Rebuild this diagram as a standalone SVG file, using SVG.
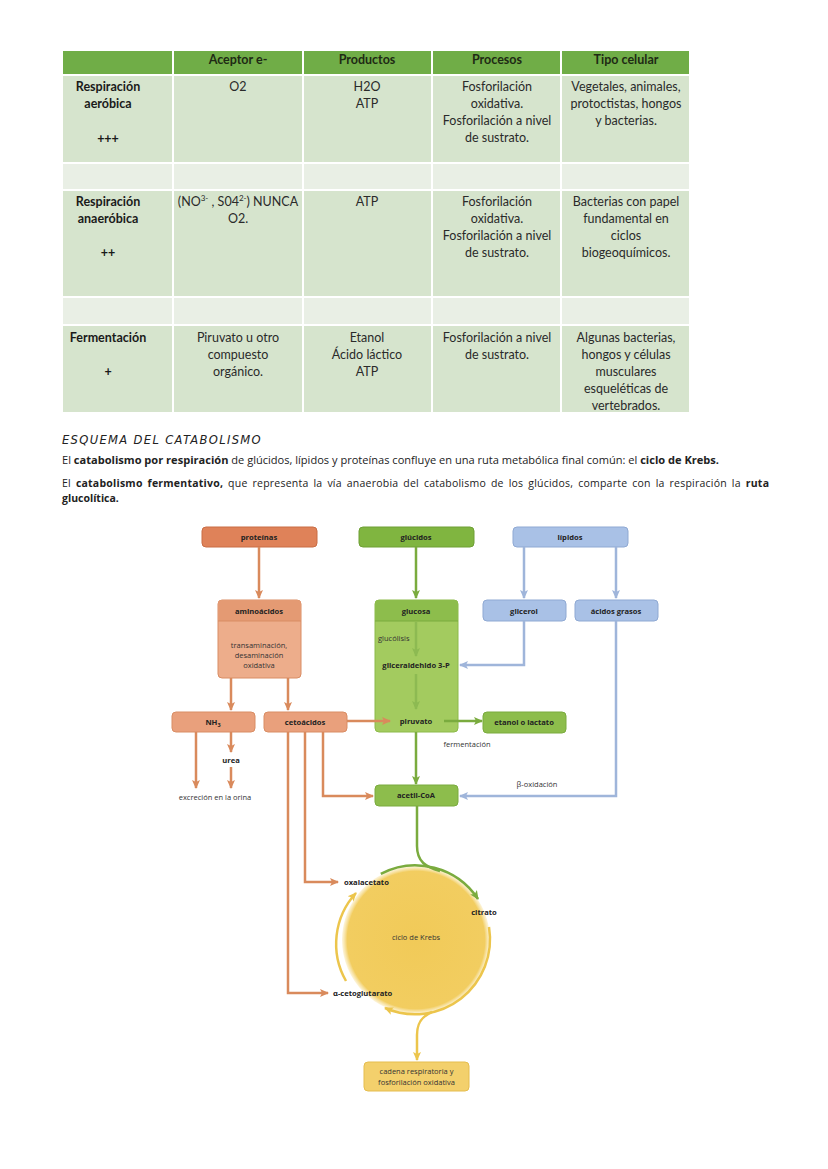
<svg xmlns="http://www.w3.org/2000/svg" width="828" height="1169" viewBox="0 0 828 1169">
<style>
.th{font-family:Lato,"Open Sans",sans-serif;font-size:12.5px;font-weight:bold;fill:#1e2a14;text-anchor:middle}
.tc{font-family:Lato,"Open Sans",sans-serif;font-size:12.5px;fill:#2a2a2a;text-anchor:middle}
.tb{font-family:Lato,"Open Sans",sans-serif;font-size:12.5px;font-weight:bold;fill:#1a1a1a;text-anchor:middle}
.p{font-family:"Open Sans",sans-serif;font-size:10.5px;fill:#222}
.b{font-weight:bold}
.nl{font-family:"Open Sans",sans-serif;font-size:7.6px;font-weight:bold;fill:#222;text-anchor:middle}
.nls{font-family:"Open Sans",sans-serif;font-size:7.6px;font-weight:bold;fill:#222;text-anchor:start}
.nt{font-family:"Open Sans",sans-serif;font-size:7.5px;fill:#333;text-anchor:middle}
.nts{font-family:"Open Sans",sans-serif;font-size:7.5px;fill:#333;text-anchor:start}
.or{stroke:#d98a5c;stroke-width:2.5;fill:none}
.gr{stroke:#7aab3e;stroke-width:2.5;fill:none}
.bl{stroke:#9fb5da;stroke-width:2.5;fill:none}
.ye{stroke:#ecc54c;stroke-width:2.5;fill:none}
</style>
<defs>
<marker id="ao" markerWidth="10" markerHeight="10" refX="8" refY="5" orient="auto" markerUnits="userSpaceOnUse"><path d="M0,1 L9,5 L0,9 L2,5 Z" fill="#d98a5c"/></marker>
<marker id="ag" markerWidth="10" markerHeight="10" refX="8" refY="5" orient="auto" markerUnits="userSpaceOnUse"><path d="M0,1 L9,5 L0,9 L2,5 Z" fill="#7aab3e"/></marker>
<marker id="agl" markerWidth="10" markerHeight="10" refX="8" refY="5" orient="auto" markerUnits="userSpaceOnUse"><path d="M0,1 L9,5 L0,9 L2,5 Z" fill="#8dba52"/></marker>
<marker id="ab" markerWidth="10" markerHeight="10" refX="8" refY="5" orient="auto" markerUnits="userSpaceOnUse"><path d="M0,1 L9,5 L0,9 L2,5 Z" fill="#9fb5da"/></marker>
<marker id="ay" markerWidth="10" markerHeight="10" refX="8" refY="5" orient="auto" markerUnits="userSpaceOnUse"><path d="M0,1 L9,5 L0,9 L2,5 Z" fill="#ecc54c"/></marker>
<radialGradient id="kg" cx="0.5" cy="0.5" r="0.5">
<stop offset="0" stop-color="#f1ca58"/>
<stop offset="0.93" stop-color="#f2cd60"/>
<stop offset="1" stop-color="#f6dc8c" stop-opacity="0.3"/>
</radialGradient>
</defs>
<rect width="828" height="1169" fill="#ffffff"/>

<!-- TABLE -->
<g id="table">
<g stroke="#ffffff" stroke-width="2">
<rect x="62" y="50" width="111" height="25" fill="#70ad47"/>
<rect x="173" y="50" width="130" height="25" fill="#70ad47"/>
<rect x="303" y="50" width="129" height="25" fill="#70ad47"/>
<rect x="432" y="50" width="129" height="25" fill="#70ad47"/>
<rect x="561" y="50" width="129" height="25" fill="#70ad47"/>
<rect x="62" y="75" width="111" height="88" fill="#d6e4cd"/>
<rect x="173" y="75" width="130" height="88" fill="#d6e4cd"/>
<rect x="303" y="75" width="129" height="88" fill="#d6e4cd"/>
<rect x="432" y="75" width="129" height="88" fill="#d6e4cd"/>
<rect x="561" y="75" width="129" height="88" fill="#d6e4cd"/>
<rect x="62" y="163" width="111" height="27" fill="#e9efe5"/>
<rect x="173" y="163" width="130" height="27" fill="#e9efe5"/>
<rect x="303" y="163" width="129" height="27" fill="#e9efe5"/>
<rect x="432" y="163" width="129" height="27" fill="#e9efe5"/>
<rect x="561" y="163" width="129" height="27" fill="#e9efe5"/>
<rect x="62" y="190" width="111" height="107" fill="#d6e4cd"/>
<rect x="173" y="190" width="130" height="107" fill="#d6e4cd"/>
<rect x="303" y="190" width="129" height="107" fill="#d6e4cd"/>
<rect x="432" y="190" width="129" height="107" fill="#d6e4cd"/>
<rect x="561" y="190" width="129" height="107" fill="#d6e4cd"/>
<rect x="62" y="297" width="111" height="28" fill="#e9efe5"/>
<rect x="173" y="297" width="130" height="28" fill="#e9efe5"/>
<rect x="303" y="297" width="129" height="28" fill="#e9efe5"/>
<rect x="432" y="297" width="129" height="28" fill="#e9efe5"/>
<rect x="561" y="297" width="129" height="28" fill="#e9efe5"/>
<rect x="62" y="325" width="111" height="88" fill="#d6e4cd"/>
<rect x="173" y="325" width="130" height="88" fill="#d6e4cd"/>
<rect x="303" y="325" width="129" height="88" fill="#d6e4cd"/>
<rect x="432" y="325" width="129" height="88" fill="#d6e4cd"/>
<rect x="561" y="325" width="129" height="88" fill="#d6e4cd"/>
</g>
<text class="th" x="238" y="64">Aceptor e-</text>
<text class="th" x="367" y="64">Productos</text>
<text class="th" x="497" y="64">Procesos</text>
<text class="th" x="626" y="64">Tipo celular</text>

<text class="tb" x="108" y="91">Respiración</text>
<text class="tb" x="108" y="108">aeróbica</text>
<text class="tb" x="108" y="143">+++</text>
<text class="tc" x="238" y="91">O2</text>
<text class="tc" x="367" y="91">H2O</text>
<text class="tc" x="367" y="108">ATP</text>
<text class="tc" x="497" y="91">Fosforilación</text>
<text class="tc" x="497" y="108">oxidativa.</text>
<text class="tc" x="497" y="125">Fosforilación a nivel</text>
<text class="tc" x="497" y="142">de sustrato.</text>
<text class="tc" x="626" y="91">Vegetales, animales,</text>
<text class="tc" x="626" y="108">protoctistas, hongos</text>
<text class="tc" x="626" y="125">y bacterias.</text>

<text class="tb" x="108" y="206">Respiración</text>
<text class="tb" x="108" y="223">anaeróbica</text>
<text class="tb" x="108" y="257">++</text>
<text class="tc" x="238" y="206">(NO<tspan font-size="8" dy="-5">3-</tspan><tspan dy="5"> , S04</tspan><tspan font-size="8" dy="-5">2-</tspan><tspan dy="5">) NUNCA</tspan></text>
<text class="tc" x="238" y="223">O2.</text>
<text class="tc" x="367" y="206">ATP</text>
<text class="tc" x="497" y="206">Fosforilación</text>
<text class="tc" x="497" y="223">oxidativa.</text>
<text class="tc" x="497" y="240">Fosforilación a nivel</text>
<text class="tc" x="497" y="257">de sustrato.</text>
<text class="tc" x="626" y="206">Bacterias con papel</text>
<text class="tc" x="626" y="223">fundamental en</text>
<text class="tc" x="626" y="240">ciclos</text>
<text class="tc" x="626" y="257">biogeoquímicos.</text>

<text class="tb" x="108" y="342">Fermentación</text>
<text class="tb" x="108" y="376">+</text>
<text class="tc" x="238" y="342">Piruvato u otro</text>
<text class="tc" x="238" y="359">compuesto</text>
<text class="tc" x="238" y="376">orgánico.</text>
<text class="tc" x="367" y="342">Etanol</text>
<text class="tc" x="367" y="359">Ácido láctico</text>
<text class="tc" x="367" y="376">ATP</text>
<text class="tc" x="497" y="342">Fosforilación a nivel</text>
<text class="tc" x="497" y="359">de sustrato.</text>
<text class="tc" x="626" y="342">Algunas bacterias,</text>
<text class="tc" x="626" y="359">hongos y células</text>
<text class="tc" x="626" y="376">musculares</text>
<text class="tc" x="626" y="393">esqueléticas de</text>
<text class="tc" x="626" y="410">vertebrados.</text>
</g>

<!-- HEADING AND TEXT -->
<text x="62" y="444" font-family="'DejaVu Sans',sans-serif" font-style="italic" font-size="13" letter-spacing="1.5" fill="#222" textLength="200" lengthAdjust="spacingAndGlyphs">ESQUEMA DEL CATABOLISMO</text>
<text class="p" x="62" y="464" textLength="657" lengthAdjust="spacingAndGlyphs">El <tspan class="b">catabolismo por respiración</tspan> de glúcidos, lípidos y proteínas confluye en una ruta metabólica final común: el <tspan class="b">ciclo de Krebs.</tspan></text>
<text class="p" x="62" y="487" textLength="707" lengthAdjust="spacing" word-spacing="2">El <tspan class="b">catabolismo fermentativo,</tspan> que representa la vía anaerobia del catabolismo de los glúcidos, comparte con la respiración la <tspan class="b">ruta</tspan></text>
<text class="p b" x="62" y="502">glucolítica.</text>

<!-- NODES -->
<g id="proteinas"><rect x="202" y="527" width="115" height="20" rx="4" fill="#df8259" stroke="#c96d45" stroke-width="1"/><text class="nl" x="259" y="540">proteínas</text></g>
<g id="glucidos"><rect x="359" y="527" width="115" height="20" rx="4" fill="#80b540" stroke="#6e9f35" stroke-width="1"/><text class="nl" x="416" y="540">glúcidos</text></g>
<g id="lipidos"><rect x="513" y="527" width="115" height="20" rx="4" fill="#a9c1e6" stroke="#8fa9d3" stroke-width="1"/><text class="nl" x="570" y="540">lípidos</text></g>

<g id="aminoacidos">
<rect x="218" y="600" width="83" height="78" rx="4" fill="#edad8b" stroke="#d98d64" stroke-width="1"/>
<path d="M218,621 V604 Q218,600 222,600 H297 Q301,600 301,604 V621 Z" fill="#e49a73"/>
<line x1="218" y1="621" x2="301" y2="621" stroke="#d98d64" stroke-width="1"/>
<text class="nl" x="259" y="614">aminoácidos</text>
<text class="nt" x="259" y="648">transaminación,</text>
<text class="nt" x="259" y="658">desaminación</text>
<text class="nt" x="259" y="668">oxidativa</text>
</g>

<g id="glucosa">
<rect x="375" y="600" width="83" height="132" rx="4" fill="#a3cb5f" stroke="#8cba4a" stroke-width="1"/>
<path d="M375,621 V604 Q375,600 379,600 H454 Q458,600 458,604 V621 Z" fill="#8dbd4c"/>
<line x1="375" y1="621" x2="458" y2="621" stroke="#7aab3e" stroke-width="1"/>
<text class="nl" x="416" y="614">glucosa</text>
<text class="nts" x="378" y="641">glucólisis</text>
<text class="nl" x="416" y="668">gliceraldehido 3-P</text>
<text class="nl" x="416" y="724">piruvato</text>
</g>

<g id="glicerol"><rect x="483" y="600" width="83" height="21" rx="4" fill="#a9c1e6" stroke="#8fa9d3" stroke-width="1"/><text class="nl" x="524" y="614">glicerol</text></g>
<g id="acidosgrasos"><rect x="575" y="600" width="83" height="21" rx="4" fill="#a9c1e6" stroke="#8fa9d3" stroke-width="1"/><text class="nl" x="616" y="614">ácidos grasos</text></g>

<g id="nh3"><rect x="172" y="712" width="83" height="20" rx="4" fill="#e9a07c" stroke="#d98d64" stroke-width="1"/><text class="nl" x="213" y="725">NH<tspan font-size="5.5" dy="2">3</tspan></text></g>
<g id="cetoacidos"><rect x="264" y="712" width="83" height="20" rx="4" fill="#e9a07c" stroke="#d98d64" stroke-width="1"/><text class="nl" x="305" y="725">cetoácidos</text></g>
<g id="urea"><text class="nl" x="231" y="763">urea</text></g>
<g id="excrecion"><text class="nt" x="215" y="800">excreción en la orina</text></g>
<g id="etanol"><rect x="483" y="712" width="83" height="21" rx="4" fill="#8dbd4c" stroke="#7aab3e" stroke-width="1"/><text class="nl" x="524" y="725">etanol o lactato</text></g>
<g id="fermentacion"><text class="nt" x="467" y="747">fermentación</text></g>
<g id="acetilcoa"><rect x="375" y="785" width="83" height="21" rx="4" fill="#8dbd4c" stroke="#7aab3e" stroke-width="1"/><text class="nl" x="416" y="798">acetil-CoA</text></g>
<g id="boxidacion"><text class="nt" x="537" y="787">β-oxidación</text></g>

<g id="cadena">
<rect x="364" y="1062" width="105" height="29" rx="4" fill="#f3d06c" stroke="#e5bd4f" stroke-width="1"/>
<text class="nt" x="416.5" y="1074">cadena respiratoria y</text>
<text class="nt" x="416.5" y="1085">fosforilación oxidativa</text>
</g>

<!-- KREBS CYCLE -->
<g id="krebs">
<circle cx="416" cy="940" r="74" fill="url(#kg)"/>
<text class="nt" x="416" y="940" font-size="8">ciclo de Krebs</text>
</g>

<!-- CONNECTORS -->
<g id="connectors">
<path class="or" d="M259,547 V598" marker-end="url(#ao)"/>
<path class="gr" d="M416,547 V598" marker-end="url(#ag)"/>
<path class="bl" d="M524,547 V598" marker-end="url(#ab)"/>
<path class="bl" d="M616,547 V598" marker-end="url(#ab)"/>
<path class="or" d="M231,678 V710" marker-end="url(#ao)"/>
<path class="or" d="M288,678 V710" marker-end="url(#ao)"/>
<path class="or" d="M196,732 V788" marker-end="url(#ao)"/>
<path class="or" d="M231,732 V752" marker-end="url(#ao)"/>
<path class="or" d="M231,767 V788" marker-end="url(#ao)"/>
<path class="or" d="M347,721 H390" marker-end="url(#ao)"/>
<path class="or" d="M323,732 V796 H373" marker-end="url(#ao)"/>
<path class="or" d="M305,732 V882 H338" marker-end="url(#ao)"/>
<path class="or" d="M288,732 V993 H328" marker-end="url(#ao)"/>
<path d="M416,622 V656" stroke="#8dba52" stroke-width="2.5" fill="none" marker-end="url(#agl)"/>
<path d="M416,674 V709" stroke="#8dba52" stroke-width="2.5" fill="none" marker-end="url(#agl)"/>
<path class="bl" d="M524,621 V665 H460" marker-end="url(#ab)"/>
<path class="gr" d="M444,721 H482" marker-end="url(#ag)"/>
<path class="gr" d="M416,732 V784" marker-end="url(#ag)"/>
<path class="bl" d="M616,621 V796 H460" marker-end="url(#ab)"/>
<path class="gr" d="M417,806 V846 C417,862 426,867 440,871"/>
<path class="gr" d="M380.8,873.8 A75,75 0 0 1 478,899" marker-end="url(#ag)"/>
<path class="ye" d="M489,927 A75,75 0 0 1 385,1008" marker-end="url(#ay)"/>
<path class="ye" d="M346,981 A75,75 0 0 1 356,893" marker-end="url(#ay)"/>
<path class="ye" d="M432,1012 C420,1017 417,1025 417,1035 V1060" marker-end="url(#ay)"/>
</g>

<g id="oxalacetato"><text class="nls" x="344" y="885">oxalacetato</text></g>
<g id="citrato"><text class="nl" x="484" y="915">citrato</text></g>
<g id="cetoglutarato"><text class="nls" x="333" y="996">α-cetoglutarato</text></g>
</svg>
